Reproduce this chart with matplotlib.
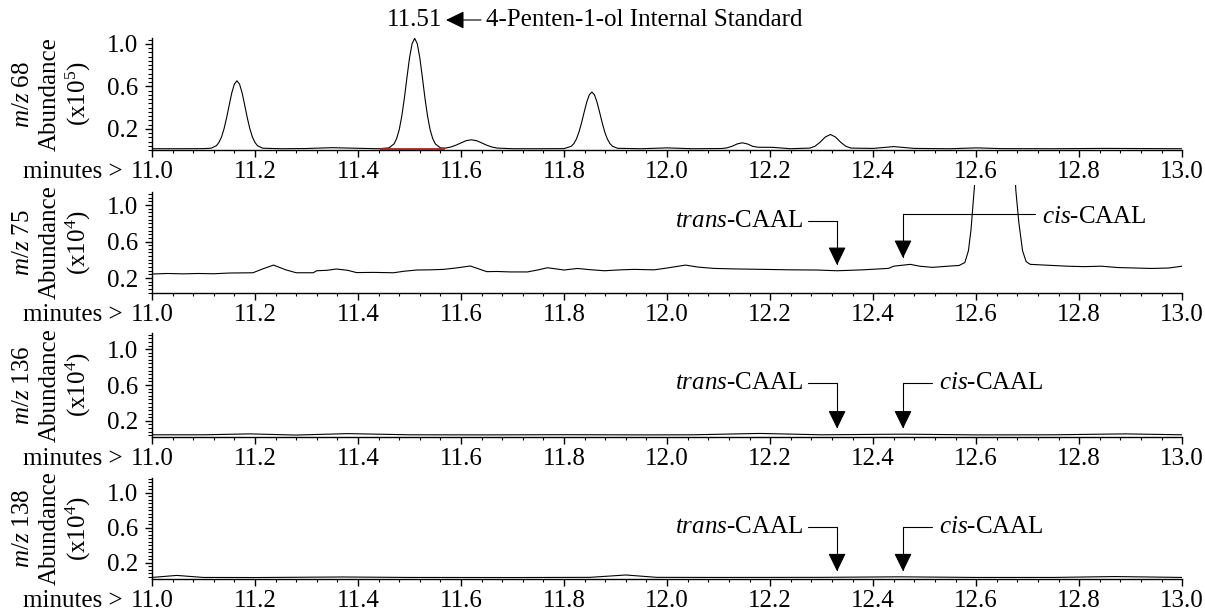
import matplotlib
matplotlib.use('Agg')
import matplotlib.pyplot as plt
from matplotlib.ticker import MultipleLocator, FormatStrFormatter
from matplotlib.transforms import blended_transform_factory
from matplotlib.patches import Rectangle

plt.rcParams['font.family'] = ['Liberation Serif', 'DejaVu Serif']
plt.rcParams['mathtext.fontset'] = 'custom'
plt.rcParams['mathtext.rm'] = 'Liberation Serif'
plt.rcParams['mathtext.it'] = 'Liberation Serif:italic'
plt.rcParams['font.size'] = 18

# --- data: (minutes, abundance) ---
mz68 = [
    (11.00, 0.012), (11.05, 0.012), (11.10, 0.013), (11.115, 0.017), (11.125, 0.040),
    (11.13, 0.071), (11.135, 0.122), (11.14, 0.201), (11.145, 0.305), (11.15, 0.424),
    (11.155, 0.539), (11.16, 0.621), (11.165, 0.652), (11.17, 0.621), (11.175, 0.539),
    (11.18, 0.424), (11.185, 0.305), (11.19, 0.201), (11.195, 0.122), (11.20, 0.071),
    (11.205, 0.040), (11.215, 0.017), (11.25, 0.012), (11.30, 0.014), (11.35, 0.022),
    (11.40, 0.016), (11.44, 0.012), (11.46, 0.020), (11.47, 0.058), (11.475, 0.108),
    (11.48, 0.191), (11.485, 0.319), (11.49, 0.488), (11.495, 0.682), (11.50, 0.868),
    (11.505, 1.002), (11.51, 1.052), (11.515, 1.002), (11.52, 0.868), (11.525, 0.682),
    (11.53, 0.488), (11.535, 0.319), (11.54, 0.191), (11.545, 0.108), (11.55, 0.058),
    (11.56, 0.020), (11.57, 0.018), (11.58, 0.028), (11.59, 0.045), (11.60, 0.067),
    (11.61, 0.088), (11.62, 0.096), (11.63, 0.088), (11.64, 0.067), (11.65, 0.045),
    (11.66, 0.028), (11.67, 0.018), (11.70, 0.012), (11.75, 0.012), (11.80, 0.013),
    (11.814, 0.035), (11.819, 0.061), (11.824, 0.104), (11.829, 0.170), (11.834, 0.257),
    (11.839, 0.356), (11.844, 0.451), (11.849, 0.520), (11.854, 0.546), (11.859, 0.520),
    (11.864, 0.451), (11.869, 0.356), (11.874, 0.257), (11.879, 0.170), (11.884, 0.104),
    (11.889, 0.061), (11.894, 0.035), (11.904, 0.016), (11.95, 0.012), (12.00, 0.020),
    (12.05, 0.012), (12.106, 0.014), (12.116, 0.020), (12.126, 0.035), (12.136, 0.057),
    (12.146, 0.068), (12.156, 0.057), (12.166, 0.035), (12.176, 0.026), (12.205, 0.025),
    (12.24, 0.012), (12.277, 0.018), (12.287, 0.035), (12.297, 0.073), (12.307, 0.122),
    (12.317, 0.146), (12.327, 0.122), (12.337, 0.073), (12.347, 0.035), (12.357, 0.018),
    (12.40, 0.015), (12.44, 0.032), (12.48, 0.015), (12.55, 0.012), (12.60, 0.020),
    (12.65, 0.013), (12.75, 0.012), (12.85, 0.015), (13.00, 0.012)]

mz75 = [
    (11.00, 0.244), (11.03, 0.25), (11.06, 0.246), (11.09, 0.25), (11.12, 0.247),
    (11.15, 0.255), (11.196, 0.258), (11.215, 0.30), (11.236, 0.342), (11.26, 0.29),
    (11.28, 0.258), (11.313, 0.258), (11.32, 0.28), (11.34, 0.285), (11.358, 0.299),
    (11.38, 0.285), (11.397, 0.26), (11.43, 0.262), (11.469, 0.258), (11.49, 0.275),
    (11.514, 0.288), (11.54, 0.29), (11.566, 0.295), (11.59, 0.31), (11.618, 0.332),
    (11.65, 0.27), (11.67, 0.272), (11.696, 0.267), (11.729, 0.267), (11.75, 0.29),
    (11.768, 0.313), (11.80, 0.288), (11.826, 0.305), (11.85, 0.292), (11.878, 0.28),
    (11.91, 0.29), (11.936, 0.295), (11.975, 0.29), (12.00, 0.31), (12.036, 0.342),
    (12.06, 0.32), (12.09, 0.306), (12.13, 0.30), (12.187, 0.295), (12.24, 0.29),
    (12.29, 0.288), (12.33, 0.28), (12.38, 0.29), (12.43, 0.306), (12.44, 0.33),
    (12.472, 0.35), (12.49, 0.33), (12.515, 0.317), (12.545, 0.33), (12.567, 0.338),
    (12.578, 0.37), (12.585, 0.50), (12.59, 0.73), (12.598, 1.3), (12.61, 2.5),
    (12.62, 4.5), (12.635, 6.0), (12.65, 4.5), (12.665, 2.5), (12.677, 1.16),
    (12.683, 0.80), (12.69, 0.50), (12.697, 0.38), (12.705, 0.35), (12.74, 0.34),
    (12.777, 0.33), (12.81, 0.325), (12.843, 0.33), (12.875, 0.315), (12.908, 0.31),
    (12.94, 0.305), (12.974, 0.31), (13.00, 0.33)]

mz136 = [
    (11.0, 0.045), (11.1, 0.045), (11.19, 0.055), (11.28, 0.042), (11.38, 0.058),
    (11.5, 0.045), (11.65, 0.044), (11.8, 0.046), (11.95, 0.044), (12.05, 0.045),
    (12.18, 0.06), (12.3, 0.045), (12.46, 0.052), (12.6, 0.044), (12.75, 0.045),
    (12.89, 0.055), (13.0, 0.045)]

mz138 = [
    (11.0, 0.035), (11.048, 0.058), (11.1, 0.035), (11.2, 0.034), (11.37, 0.04),
    (11.5, 0.035), (11.7, 0.034), (11.85, 0.036), (11.92, 0.063), (11.98, 0.036),
    (12.1, 0.035), (12.3, 0.036), (12.45, 0.042), (12.6, 0.035), (12.75, 0.035),
    (12.87, 0.045), (13.0, 0.035)]

mz_values = ['68', '75', '136', '138']
exponents = ['5', '4', '4', '4']

# integration baseline under the internal standard peak
std_base_start, std_base_end, std_base_level = 11.444, 11.567, 0.011

# retention times marked with arrows
trans_rt = 12.33
cis_rt = 12.458

# --- layout ---
fig = plt.figure(figsize=(12.05, 6.12), dpi=100)
rects = [(0.1261, 0.7549, 0.855, 0.183),
         (0.1261, 0.5212, 0.855, 0.165),
         (0.1261, 0.2859, 0.855, 0.170),
         (0.1261, 0.0539, 0.855, 0.165)]
ylims = [(0, 1.055), (0.036, 1.142), (0.02, 1.18), (0.017, 1.17)]
traces = [mz68, mz75, mz136, mz138]

arrow_style = '-|>,head_length=11.3,head_width=5.5'
axes = []
for i, (rect, yl, pts) in enumerate(zip(rects, ylims, traces)):
    t, a = zip(*pts)
    ax = fig.add_axes(rect)
    axes.append(ax)
    line, = ax.plot(t, a, color='k', lw=0.8)
    if i == 1:
        # tall peak runs a little past the frame
        line.set_clip_path(Rectangle((0, 0), 1, 1.07, transform=ax.transAxes))
    ax.set_xlim(11.0, 13.0)
    ax.set_ylim(*yl)
    for s in ['top', 'right']:
        ax.spines[s].set_visible(False)
    for s in ['left', 'bottom']:
        ax.spines[s].set_linewidth(1.0)
    ax.xaxis.set_major_locator(MultipleLocator(0.2))
    ax.xaxis.set_minor_locator(MultipleLocator(0.04))
    ax.xaxis.set_major_formatter(FormatStrFormatter('%.1f'))
    ax.set_yticks([0.2, 0.6, 1.0])
    ax.yaxis.set_minor_locator(MultipleLocator(0.04))
    ax.yaxis.set_major_formatter(FormatStrFormatter('%.1f'))
    ax.tick_params(axis='x', which='major', direction='out', length=5, width=1, pad=3)
    ax.tick_params(axis='x', which='minor', direction='out', length=2.5, width=0.8)
    ax.tick_params(axis='y', which='major', direction='out', length=5, width=1, pad=5)
    ax.tick_params(axis='y', which='minor', direction='out', length=3, width=0.8)

    ax.annotate('minutes >', xy=(0, 0), xycoords='axes fraction',
                xytext=(-21, -8), textcoords='offset points', ha='right', va='top')

    tr = blended_transform_factory(fig.transFigure, ax.transAxes)
    ax.text(0.019, 0.5, r'$m$/$z$ ' + mz_values[i], transform=tr,
            rotation=90, ha='center', va='center')
    ax.text(0.0415, 0.5, 'Abundance', transform=tr,
            rotation=90, ha='center', va='center')
    ax.text(0.0647, 0.5, '(x10$^{' + exponents[i] + '}$)', transform=tr,
            rotation=90, ha='center', va='center')

# red integration baseline
axes[0].plot([std_base_start, std_base_end], [std_base_level, std_base_level],
             color='#b22222', lw=1.3)

# internal standard label at the top
y_top = 1 - 20 / 612
fig.text(387 / 1205, y_top, '11.51', ha='left', va='center')
axes[0].annotate('', xy=(446 / 1205, y_top), xycoords='figure fraction',
                 xytext=(481 / 1205, y_top), textcoords='figure fraction',
                 annotation_clip=False,
                 arrowprops=dict(arrowstyle=arrow_style, mutation_scale=1,
                                 shrinkA=0, shrinkB=0, lw=0.8, color='k'))
fig.text(486 / 1205, y_top, '4-Penten-1-ol Internal Standard', ha='left', va='center')

# trans/cis-CAAL markers:
# (panel, trans line y, trans tip y, cis line y, cis tip y, cis line end x, cis text y)
marks = [(1, 0.828, 0.342, 0.901, 0.419, 12.714, 0.872),
         (2, 0.618, 0.114, 0.618, 0.114, 12.514, 0.618),
         (3, 0.611, 0.104, 0.611, 0.104, 12.514, 0.611)]
for idx, t_line, t_tip, c_line, c_tip, c_end, c_text in marks:
    ax = axes[idx]
    ax.text(12.265, t_line, r'$trans$-CAAL', ha='right', va='center')
    ax.annotate('', xy=(trans_rt, t_tip), xytext=(12.273, t_line),
                arrowprops=dict(arrowstyle=arrow_style, mutation_scale=1,
                                connectionstyle='angle,angleA=0,angleB=90,rad=0',
                                shrinkA=0, shrinkB=0, lw=0.8, color='k'))
    ax.text(c_end + 0.013, c_text, r'$cis$-CAAL', ha='left', va='center')
    ax.annotate('', xy=(cis_rt, c_tip), xytext=(c_end, c_line),
                arrowprops=dict(arrowstyle=arrow_style, mutation_scale=1,
                                connectionstyle='angle,angleA=0,angleB=90,rad=0',
                                shrinkA=0, shrinkB=0, lw=0.8, color='k'))

fig.savefig('out.png', dpi=100)
